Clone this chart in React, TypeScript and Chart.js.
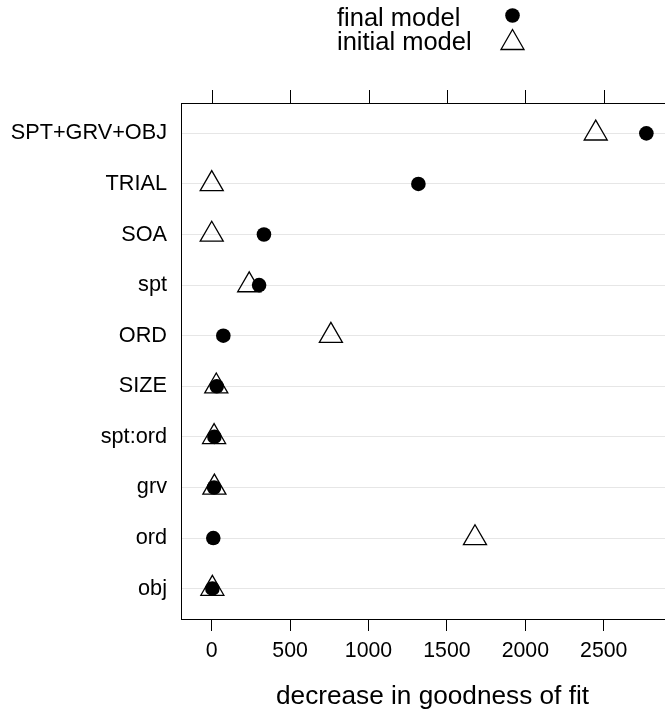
import React, { useEffect, useRef } from 'react';
import { Chart, registerables } from 'chart.js';

Chart.register(...registerables);

// ---- data ----
const categories = ['SPT+GRV+OBJ', 'TRIAL', 'SOA', 'spt', 'ORD', 'SIZE', 'spt:ord', 'grv', 'ord', 'obj'];
const finalModel = [2772, 1318, 333, 302, 74, 32, 17, 15, 10, 4];
const initialModel = [2449, 0, 0, 239, 760, 29, 15, 17, 1679, 4];
const seriesLabels = ['final model', 'initial model'];
const xTickValues = [0, 500, 1000, 1500, 2000, 2500];
const xTitle = 'decrease in goodness of fit';
const xMin = -196;
const xMax = 3012;

const FONT = '"Liberation Sans", Arial, Helvetica, sans-serif';

export default function App() {
  const ref = useRef<HTMLCanvasElement>(null);

  useEffect(() => {
    const canvas = ref.current;
    if (!canvas) return;

    const latticeFrame = {
      id: 'latticeFrame',
      afterDraw(chart: any) {
        const { ctx, chartArea: a, scales } = chart;
        ctx.save();
        ctx.strokeStyle = '#000';
        ctx.lineWidth = 1;
        // panel frame
        ctx.strokeRect(a.left + 0.5, a.top + 0.5, a.right - a.left - 1, a.bottom - a.top);
        // mirrored ticks on top
        ctx.beginPath();
        for (const v of xTickValues) {
          const px = Math.round(scales.x.getPixelForValue(v)) + 0.5;
          ctx.moveTo(px, a.top);
          ctx.lineTo(px, a.top - 13);
        }
        ctx.stroke();

        // key (text left, symbol right)
        ctx.font = `25.5px ${FONT}`;
        ctx.fillStyle = '#000';
        ctx.textAlign = 'left';
        ctx.textBaseline = 'alphabetic';
        chart.data.datasets.forEach((ds: any, i: number) => {
          const rowY = 15.5 + i * 24;
          ctx.fillText(ds.label, 337, rowY + 10);
          const mx = 512.5;
          if (ds.pointStyle === 'circle') {
            ctx.beginPath();
            ctx.arc(mx, rowY, ds.pointRadius, 0, Math.PI * 2);
            ctx.fillStyle = ds.pointBackgroundColor;
            ctx.fill();
            ctx.fillStyle = '#000';
          } else {
            const r = ds.pointRadius;
            const cy = rowY + r / 4;
            ctx.beginPath();
            for (let k = 0; k < 3; k++) {
              const ang = (k * 2 * Math.PI) / 3;
              const px = mx + Math.sin(ang) * r;
              const py = cy - Math.cos(ang) * r;
              if (k === 0) ctx.moveTo(px, py);
              else ctx.lineTo(px, py);
            }
            ctx.closePath();
            ctx.lineWidth = ds.pointBorderWidth;
            ctx.strokeStyle = ds.pointBorderColor;
            ctx.stroke();
          }
        });
        ctx.restore();
      },
    };

    const chart = new Chart(canvas, {
      type: 'scatter',
      data: {
        datasets: [
          {
            label: seriesLabels[0],
            data: finalModel.map((v, i) => ({ x: v, y: i + 1 })),
            pointStyle: 'circle',
            pointRadius: 7.3,
            pointBackgroundColor: '#000',
            pointBorderColor: '#000',
            pointBorderWidth: 0,
            showLine: false,
          } as any,
          {
            label: seriesLabels[1],
            data: initialModel.map((v, i) => ({ x: v, y: i + 1 })),
            pointStyle: 'triangle',
            pointRadius: 13.3,
            pointBackgroundColor: 'rgba(0,0,0,0)',
            pointBorderColor: '#000',
            pointBorderWidth: 1.3,
            showLine: false,
          } as any,
        ],
      },
      options: {
        animation: false,
        responsive: false,
        devicePixelRatio: 1,
        events: [],
        layout: { padding: { top: 103, left: 0, right: 16, bottom: 0 } },
        plugins: {
          legend: { display: false },
          tooltip: { enabled: false },
        },
        scales: {
          x: {
            type: 'linear',
            position: 'bottom',
            min: xMin,
            max: xMax,
            afterBuildTicks: (s: any) => {
              s.ticks = xTickValues.map((v) => ({ value: v }));
            },
            afterFit: (s: any) => {
              s.height = 93;
            },
            grid: {
              drawOnChartArea: false,
              drawTicks: true,
              tickLength: 12,
              color: '#000',
              lineWidth: 1,
            },
            border: { display: false },
            ticks: {
              color: '#000',
              font: { family: FONT, size: 21.3 },
              padding: 7,
              maxRotation: 0,
              autoSkip: false,
              callback: (v: any) => String(v),
            },
            title: {
              display: true,
              text: xTitle,
              color: '#000',
              font: { family: FONT, size: 26.2 },
              padding: { top: 0, bottom: 0 },
            },
          },
          y: {
            type: 'linear',
            reverse: true,
            min: 0.4,
            max: 10.6,
            afterBuildTicks: (s: any) => {
              s.ticks = categories.map((_, i) => ({ value: i + 1 }));
            },
            afterFit: (s: any) => {
              s.width = 181;
            },
            grid: { color: '#e6e6e6', lineWidth: 1, drawTicks: false },
            border: { display: false },
            ticks: {
              color: '#000',
              font: { family: FONT, size: 21.7 },
              padding: 14,
              autoSkip: false,
              callback: (v: any) => categories[Math.round(Number(v)) - 1] ?? '',
            },
          },
        },
      },
      plugins: [latticeFrame],
    });

    return () => chart.destroy();
  }, []);

  return (
    <div
      style={{
        position: 'fixed',
        left: 0,
        top: 0,
        width: 665,
        height: 712,
        overflow: 'hidden',
        background: '#fff',
      }}
    >
      <canvas ref={ref} width={700} height={712} style={{ width: 700, height: 712, display: 'block' }} />
    </div>
  );
}
